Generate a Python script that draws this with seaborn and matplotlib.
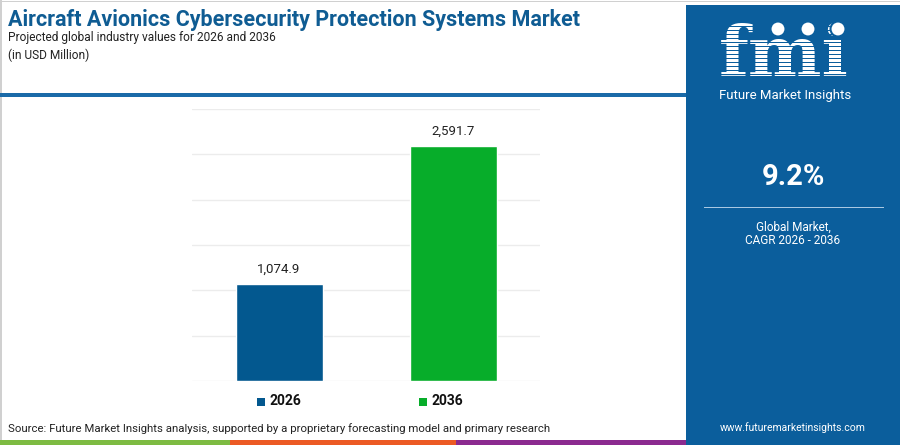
# Aircraft avionics cybersecurity market - bar chart recreation

import matplotlib
matplotlib.use('Agg')
import matplotlib.pyplot as plt
from matplotlib.patches import Rectangle, Ellipse
import seaborn as sns
import pandas as pd

# Data
years = ['2026', '2036']
values = [1074.9, 2591.7]
bar_colors = ['#03588f', '#07ad2a']
cagr = '9.2%'

df = pd.DataFrame({'year': years, 'value': values})

sns.set_theme(style='white')
plt.rcParams['font.family'] = ['Roboto', 'DejaVu Sans']

W, H = 900, 445
fig = plt.figure(figsize=(W / 100, H / 100), dpi=100)
fig.patch.set_facecolor('white')


def fx(px):
    return px / W


def fy(py):
    return 1 - py / H


# borders and header line
fig.add_artist(Rectangle((0, fy(445)), fx(1.5), 1, transform=fig.transFigure, color='#d0d0d0', lw=0))
fig.add_artist(Rectangle((0, fy(1.5)), 1, fx(1.5), transform=fig.transFigure, color='#d0d0d0', lw=0))
fig.add_artist(Rectangle((0, fy(96.5)), fx(686), 3.5 / H, transform=fig.transFigure, color='#1a6aa8', lw=0))

# title
fig.text(fx(8), fy(20), 'Aircraft Avionics Cybersecurity Protection Systems Market',
         fontsize=15.5, fontweight='bold', color='#0f5c93', va='center', ha='left')
fig.text(fx(8), fy(38), 'Projected global industry values for 2026 and 2036',
         fontsize=8.6, color='#222222', va='center', ha='left')
fig.text(fx(8), fy(55), '(in USD Million)', fontsize=8.6, color='#222222', va='center', ha='left')

# chart
ax = fig.add_axes([fx(192), fy(381), fx(540) - fx(192), (381 - 109) / H])
sns.barplot(data=df, x='year', y='value', hue='year', palette=bar_colors,
            width=0.5, legend=False, ax=ax, saturation=1)
ax.set_ylim(0, 3000)
ax.set_xlim(-0.5, 1.5)
ax.set_yticks(range(0, 3001, 500))
ax.yaxis.grid(True, color='#ececec', lw=1)
ax.set_axisbelow(True)
for s in ax.spines.values():
    s.set_visible(False)
ax.set_xticks([])
ax.set_yticklabels([])
ax.tick_params(left=False, bottom=False)
ax.set_xlabel('')
ax.set_ylabel('')
for i, v in enumerate(values):
    ax.text(i, v + 90, f'{v:,.1f}', ha='center', va='bottom', fontsize=9.5, color='#222222')

# legend
for px, lab, col in [(257, years[0], bar_colors[0]), (419, years[1], bar_colors[1])]:
    fig.add_artist(Rectangle((fx(px), fy(405.5)), fx(8), 8 / H, transform=fig.transFigure, color=col, lw=0))
    fig.text(fx(px + 12), fy(401), lab, fontsize=10, fontweight='bold', color='#111111', va='center', ha='left')

# source
fig.text(fx(8), fy(429), 'Source: Future Market Insights analysis, supported by a proprietary forecasting model and primary research',
         fontsize=8.2, color='#222222', va='center', ha='left')

# bottom strip
for x0, x1, col in [(0, 230, '#7dbb42'), (230, 456, '#ec5a24'), (456, 686, '#8b2a8f')]:
    fig.add_artist(Rectangle((fx(x0), 0), fx(x1 - x0), 5 / H, transform=fig.transFigure, color=col, lw=0))

# right panel
panel = '#0b5e9c'
fig.add_artist(Rectangle((fx(686), 0), fx(214), fy(5), transform=fig.transFigure, color=panel, lw=0))

# logo
fig.text(fx(784), fy(56), 'fmi', fontsize=50, fontweight='bold', family='DejaVu Serif',
         color='white', ha='center', va='center', zorder=5)
for yy in range(26, 82, 4):
    fig.add_artist(Rectangle((fx(712), fy(yy + 1.2)), fx(146), 1.2 / H, transform=fig.transFigure,
                             color=panel, lw=0, zorder=6))
for cx in [778, 808, 838]:
    fig.add_artist(Ellipse((fx(cx), fy(29)), fx(15), 15 / H, transform=fig.transFigure,
                           facecolor='white', edgecolor=panel, lw=1.5, zorder=7))
fig.text(fx(785), fy(95), 'Future Market Insights', fontsize=9.5, color='white', ha='center', va='center')

fig.text(fx(793), fy(177), cagr, fontsize=21, fontweight='bold', color='white', ha='center', va='center')
fig.add_artist(Rectangle((fx(704), fy(208)), fx(180), 1.5 / H, transform=fig.transFigure, color='#a9c8e2', lw=0))
fig.text(fx(793), fy(227), 'Global Market,', fontsize=8.5, color='white', ha='center', va='center')
fig.text(fx(793), fy(240), 'CAGR 2026 - 2036', fontsize=8.5, color='white', ha='center', va='center')
fig.text(fx(793), fy(428), 'www.futuremarketinsights.com', fontsize=7.5, color='white', ha='center', va='center')

fig.savefig('out.png', dpi=100, facecolor=fig.get_facecolor())
